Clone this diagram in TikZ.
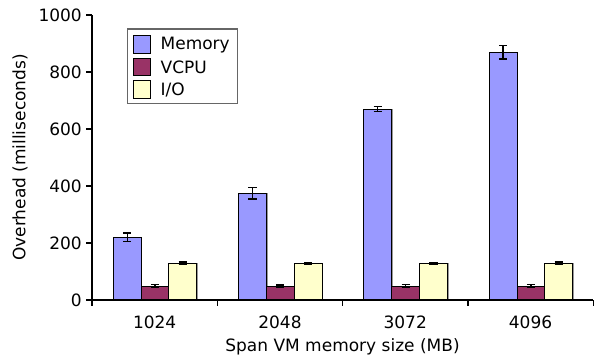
\documentclass[tikz,border=0pt]{standalone}
\usepackage{fontspec}
\setmainfont{DejaVu Sans}
\usetikzlibrary{positioning}

\definecolor{memcol}{HTML}{9999FF}
\definecolor{cpucol}{HTML}{993366}
\definecolor{iocol}{HTML}{FFFFCC}

% one bar with its error bar: left x, value, error, colour
\newcommand{\drawbar}[4]{%
  \fill[black!40] ({#1+1.2},60) rectangle ({#1+29},{60+#2*0.285});
  \draw[bar, fill=#4] (#1,60) rectangle ({#1+27.8},{60+#2*0.285});
  \draw[errbar] ({#1+13.9},{60+(#2-#3)*0.285}) -- ({#1+13.9},{60+(#2+#3)*0.285});
  \draw[errbar] ({#1+9.8},{60+(#2-#3)*0.285}) -- ({#1+18},{60+(#2-#3)*0.285});
  \draw[errbar] ({#1+9.8},{60+(#2+#3)*0.285}) -- ({#1+18},{60+(#2+#3)*0.285});
}

\begin{document}
\begin{tikzpicture}[x=1pt, y=1pt,
  bar/.style={draw=black, line width=1pt},
  errbar/.style={line width=1.3pt},
  axis/.style={line width=1.2pt},
  lbl/.style={font=\fontsize{17}{20}\selectfont, inner sep=0pt},
  swatch/.style={draw=black, line width=1pt, minimum width=17.5pt, minimum height=17.5pt, inner sep=0pt}]

\useasboundingbox (0,0) rectangle (597,360);

% bars
\foreach \mem/\memerr/\cpu/\cpuerr/\io/\ioerr/\size [count=\g from 0] in
  {220/15/49/5/129/4/1024, 374/20/49/4/129/3/2048,
   670/9/49/5/129/3/3072, 869/23/49/5/129/4/4096} {
  \pgfmathsetmacro{\gx}{92+125.3*\g}
  \drawbar{\gx+21.3}{\mem}{\memerr}{memcol}
  \drawbar{\gx+49.1}{\cpu}{\cpuerr}{cpucol}
  \drawbar{\gx+76.9}{\io}{\ioerr}{iocol}
  \node[lbl] (xtick\g) at ({\gx+62.65},38) {\size};
}

% axes
\draw[axis] (92,345) -- (92,60) -- (593,60);
\foreach \v [count=\i from 0] in {0,200,...,1000} {
  \draw[axis] (86,{60+\v*0.285}) -- (92,{60+\v*0.285});
  \node[lbl, anchor=east] (ytick\i) at (82,{60+\v*0.285}) {\v};
}
\foreach \g in {0,...,4}
  \draw[axis] ({92+125.3*\g},60) -- ({92+125.3*\g},54);

\node[lbl] (xlabel) at (342.5,13) {Span VM memory size (MB)};
\node[lbl, rotate=90] (ylabel) at (20,202.5) {Overhead (milliseconds)};

% legend
\draw[draw=black!60, line width=1.5pt, fill=white] (127.7,256.3) rectangle (237.7,331);
\node[swatch, fill=memcol] (memkey) at (141.9,315.3) {};
\node[swatch, fill=cpucol, below=4pt of memkey] (cpukey) {};
\node[swatch, fill=iocol, below=4pt of cpukey] (iokey) {};
\node[lbl, right=9.3pt of memkey] (memtext) {Memory};
\node[lbl, right=9.3pt of cpukey] (cputext) {VCPU};
\node[lbl, right=9.3pt of iokey] (iotext) {I/O};
\end{tikzpicture}
\end{document}
